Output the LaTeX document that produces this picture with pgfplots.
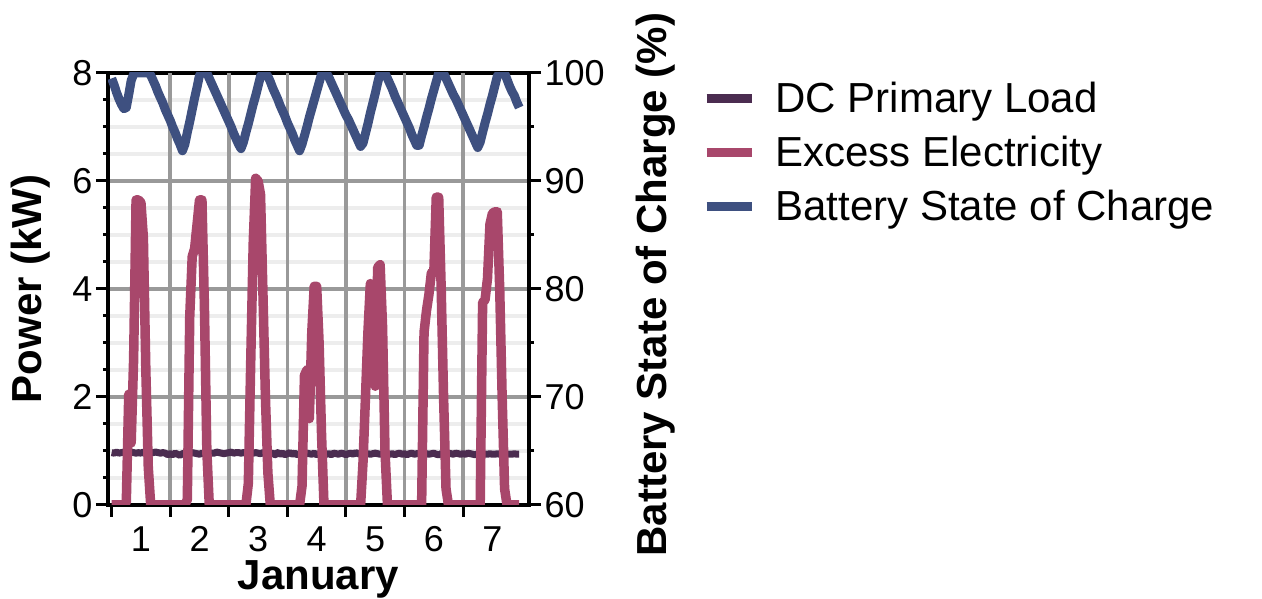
\documentclass[border=0pt]{standalone}
\usepackage{pgfplots}
\pgfplotsset{compat=1.18}
\usepackage{pgfplotstable}
\usepackage{fontspec}
\setmainfont{Liberation Sans}
\definecolor{loadc}{HTML}{4B2C50}
\definecolor{excc}{HTML}{A8476B}
\definecolor{socc}{HTML}{3E5080}
\definecolor{gridmaj}{HTML}{999999}
\definecolor{gridmin}{HTML}{EDEDED}
\pgfplotstableread{
h load excess soc
0 0.97 0 99.5
1 0.96 0 98.9
2 0.98 0 98.2
3 0.96 0 97.6
4 0.97 0 97.1
5 0.98 0 96.7
6 0.97 0.05 96.8
7 0.96 2.05 98.0
8 0.98 1.15 99.3
9 0.97 2.7 99.9
10 0.96 5.65 100
11 0.97 5.65 100
12 0.96 5.6 100
13 0.98 4.95 100
14 0.97 2.5 100
15 0.97 0.7 100
16 0.96 0 99.8
17 0.97 0 99.3
18 0.98 0 98.8
19 0.97 0 98.2
20 0.96 0 97.7
21 0.97 0 97.2
22 0.96 0 96.6
23 0.93 0 96.1
24 0.95 0 95.6
25 0.93 0 95.0
26 0.96 0 94.5
27 0.94 0 93.9
28 0.92 0 93.4
29 0.95 0 92.8
30 0.96 0 93.4
31 0.93 0.1 94.5
32 0.95 3.5 95.5
33 0.97 4.6 96.6
34 0.96 4.75 97.7
35 0.95 5.2 98.7
36 0.94 5.65 99.8
37 0.96 5.65 100
38 0.95 3.7 100
39 0.97 1.0 100
40 0.95 0 99.5
41 0.96 0 99.0
42 0.96 0 98.5
43 0.98 0 98.0
44 0.97 0 97.5
45 0.96 0 97.0
46 0.95 0 96.5
47 0.96 0 96.0
48 0.97 0 95.5
49 0.98 0 95.0
50 0.96 0 94.4
51 0.97 0 93.9
52 0.97 0 93.4
53 0.96 0 93.0
54 0.97 0 93.6
55 0.96 0 94.5
56 0.97 0.4 95.3
57 0.98 2.7 96.2
58 0.96 4.85 97.1
59 0.97 6.05 97.9
60 0.96 6.0 98.8
61 0.95 5.75 99.7
62 0.97 3.9 100
63 0.96 2.0 100
64 0.98 0.6 99.7
65 0.95 0 99.2
66 0.96 0 98.6
67 0.93 0 98.1
68 0.97 0 97.6
69 0.94 0 97.0
70 0.96 0 96.5
71 0.93 0 96.0
72 0.95 0 95.4
73 0.97 0 94.9
74 0.94 0 94.4
75 0.96 0 93.8
76 0.93 0 93.3
77 0.95 0 92.8
78 0.97 0.35 93.4
79 0.93 2.4 94.2
80 0.96 2.5 95.0
81 0.95 1.6 95.9
82 0.94 3.2 96.7
83 0.96 4.05 97.5
84 0.93 4.05 98.3
85 0.95 3.0 99.1
86 0.96 1.3 99.9
87 0.97 0 100
88 0.94 0 100
89 0.95 0 99.6
90 0.93 0 99.1
91 0.96 0 98.6
92 0.95 0 98.1
93 0.94 0 97.6
94 0.96 0 97.1
95 0.95 0 96.6
96 0.93 0 96.1
97 0.95 0 95.7
98 0.96 0 95.2
99 0.94 0 94.7
100 0.97 0 94.2
101 0.95 0 93.7
102 0.94 0 93.2
103 0.96 0.8 93.5
104 0.93 2.0 94.4
105 0.95 3.2 95.3
106 0.94 4.1 96.3
107 0.95 2.9 97.2
108 0.96 2.2 98.1
109 0.95 4.4 99.1
110 0.94 4.45 100
111 0.95 3.3 100
112 0.96 1.0 100
113 0.95 0 99.5
114 0.94 0 99.0
115 0.95 0 98.5
116 0.93 0 97.9
117 0.95 0 97.4
118 0.96 0 96.9
119 0.94 0 96.4
120 0.95 0 95.9
121 0.93 0 95.4
122 0.95 0 94.9
123 0.96 0 94.3
124 0.94 0 93.8
125 0.95 0 93.3
126 0.95 0 93.3
127 0.94 0 94.2
128 0.96 3.2 95.0
129 0.95 3.6 95.9
130 0.94 3.9 96.7
131 0.95 4.3 97.6
132 0.96 4.3 98.4
133 0.94 5.7 99.2
134 0.93 5.7 100
135 0.95 4.05 100
136 0.94 2.0 100
137 0.95 0.3 99.5
138 0.96 0 99.0
139 0.95 0 98.5
140 0.94 0 98.0
141 0.96 0 97.6
142 0.95 0 97.1
143 0.94 0 96.6
144 0.95 0 96.1
145 0.94 0 95.6
146 0.96 0 95.1
147 0.95 0 94.6
148 0.94 0 94.1
149 0.93 0 93.6
150 0.95 0 93.1
151 0.94 0 93.6
152 0.95 3.75 94.5
153 0.94 3.8 95.4
154 0.94 4.2 96.2
155 0.95 5.2 97.1
156 0.94 5.4 97.9
157 0.94 5.43 98.8
158 0.95 5.43 99.7
159 0.94 4.0 100
160 0.94 2.0 100
161 0.95 0.3 100
162 0.94 0 99.4
163 0.94 0 98.8
164 0.94 0 98.3
165 0.95 0 97.9
166 0.94 0 97.3
167 0.94 0 96.8
}\data
\begin{document}
\begin{tikzpicture}
\useasboundingbox (0,0) rectangle (1262pt,599pt);
\pgfplotsset{
 common/.style={
  at={(108pt,94pt)}, anchor=south west, scale only axis, width=421pt, height=432pt,
  xmin=-1.5, xmax=171,
  tick align=outside,
  major tick length=12pt, minor tick length=5pt,
  tick style={black, line width=3pt},
  axis line style={black, line width=3.5pt},
  tick label style={font=\fontsize{36}{40}\selectfont},
  label style={font=\fontsize{42}{48}\selectfont\bfseries},
  /pgf/number format/assume math mode=true,
 }}
\begin{axis}[common,
  ymin=0, ymax=8, ytick={0,2,...,8}, minor y tick num=3, ytick pos=left,
  xtick={0,24,...,144}, xticklabels={}, xtick pos=left,
  extra x ticks={12,36,...,156}, extra x tick labels={1,2,3,4,5,6,7},
  extra x tick style={major tick length=0pt, grid=none},
  xticklabel style={yshift=-18pt},
  ymajorgrids, yminorgrids,
  major grid style={gridmaj, line width=3.5pt},
  minor grid style={gridmin, line width=3.5pt},
  xlabel={January}, ylabel={Power (kW)},
  xlabel style={at={(axis description cs:0.5,-0.172)}, anchor=center},
  ylabel style={at={(axis description cs:-0.184,0.5)}, anchor=center},
]
\draw[gridmaj, line width=3.5pt] (axis cs:24,0) -- (axis cs:24,8);
\draw[gridmaj, line width=3.5pt] (axis cs:48,0) -- (axis cs:48,8);
\draw[gridmaj, line width=3.5pt] (axis cs:72,0) -- (axis cs:72,8);
\draw[gridmaj, line width=3.5pt] (axis cs:96,0) -- (axis cs:96,8);
\draw[gridmaj, line width=3.5pt] (axis cs:120,0) -- (axis cs:120,8);
\draw[gridmaj, line width=3.5pt] (axis cs:144,0) -- (axis cs:144,8);
\addplot[loadc, line width=7pt, line join=round] table[x=h, y=load]{\data};
\addplot[excc, line width=9.5pt, line join=round] table[x=h, y=excess]{\data};
\end{axis}
\begin{axis}[common,
  ymin=60, ymax=100, ytick={60,70,...,100}, minor y tick num=1,
  axis x line=none, axis y line*=right, ytick pos=right,
  ylabel={Battery State of Charge (\%)},
  ylabel style={at={(axis description cs:1.302,0.51)}, anchor=center},
  legend style={at={(axis description cs:1.411,0.983)}, anchor=north west,
    draw=none, fill=none, font=\fontsize{42}{48}\selectfont, row sep=18pt, inner sep=0pt},
  legend cell align=left,
  legend image code/.code={\draw[#1, line width=9pt, line cap=butt] (0pt,0pt) -- (45pt,0pt); \path (62pt,0pt);},
]
\addlegendimage{loadc, line width=7pt}
\addlegendentry{DC Primary Load}
\addlegendimage{excc, line width=9.5pt}
\addlegendentry{Excess Electricity}
\addplot[socc, line width=9pt, line join=round] table[x=h, y=soc]{\data};
\addlegendentry{Battery State of Charge}
\end{axis}
\end{tikzpicture}
\end{document}
